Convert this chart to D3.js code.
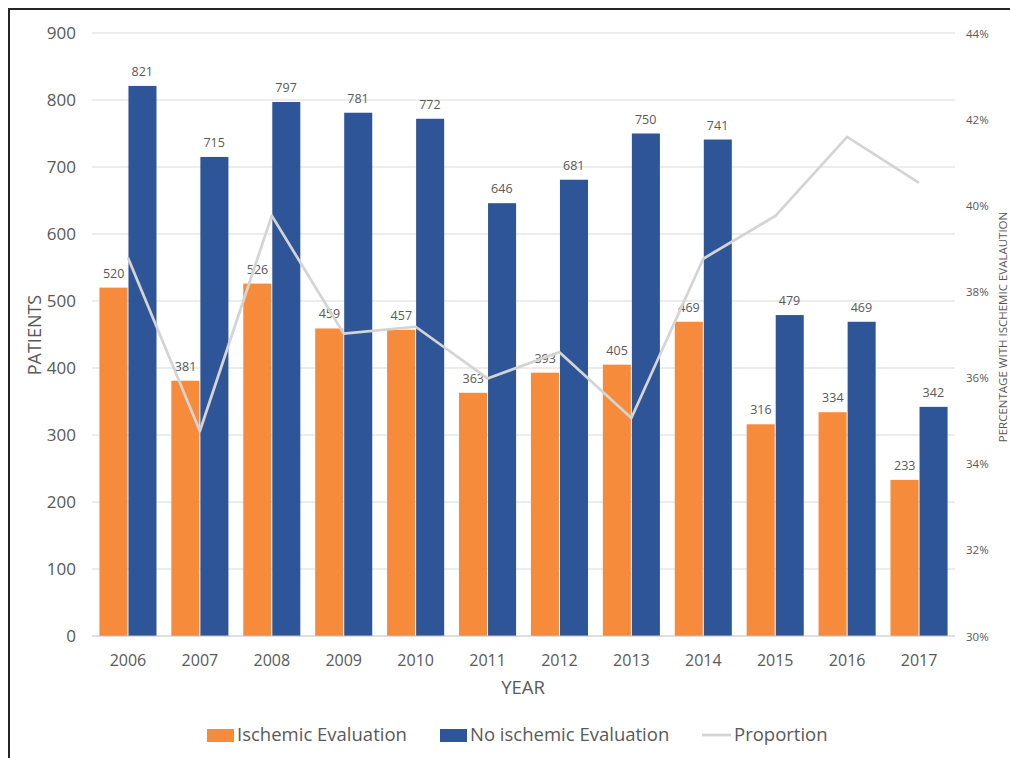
<!DOCTYPE html>
<html>
<head>
<meta charset="utf-8">
<script src="https://cdn.jsdelivr.net/npm/d3@7"></script>
<style>
  html, body { margin: 0; padding: 0; background: #fff; }
  svg { display: block; }
  text { font-family: "Open Sans", sans-serif; fill: #595959; }
</style>
</head>
<body>
<svg id="chart" width="1010" height="758"></svg>
<script>
// Patients per year, with and without ischemic evaluation
const years = ["2006","2007","2008","2009","2010","2011","2012","2013","2014","2015","2016","2017"];
const ischemic = [520, 381, 526, 459, 457, 363, 393, 405, 469, 316, 334, 233];
const noIschemic = [821, 715, 797, 781, 772, 646, 681, 750, 741, 479, 469, 342];
// Share of patients with ischemic evaluation
const proportion = [0.3878, 0.3476, 0.3976, 0.3702, 0.3718, 0.3598, 0.3659, 0.3506, 0.3876, 0.3975, 0.4159, 0.4052];
const leftTicks = [0, 100, 200, 300, 400, 500, 600, 700, 800, 900];
const rightTicks = [0.30, 0.32, 0.34, 0.36, 0.38, 0.40, 0.42, 0.44];

const ORANGE = "#F68C3B", BLUE = "#2E5597", LINE = "#D4D4D4";

const svg = d3.select("#chart");

// outer frame
svg.append("rect").attr("x", 9).attr("y", 9).attr("width", 1030).attr("height", 780)
  .attr("fill", "none").attr("stroke", "#262626").attr("stroke-width", 2);

const plot = { left: 92, right: 955, top: 33, bottom: 636 };

const x = d3.scaleBand().domain(years).range([plot.left, plot.right]).padding(0);
const inner = d3.scaleBand().domain(["isc", "no"]).range([0, x.bandwidth()])
  .paddingInner(0).paddingOuter(0.26);
const y = d3.scaleLinear().domain([0, 900]).range([plot.bottom, plot.top]);
const y2 = d3.scaleLinear().domain([0.30, 0.44]).range([plot.bottom, plot.top]);

// gridlines
svg.append("g").selectAll("line").data(leftTicks.slice(1)).join("line")
  .attr("x1", plot.left).attr("x2", plot.right)
  .attr("y1", d => y(d)).attr("y2", d => y(d))
  .attr("stroke", "#D9D9D9").attr("stroke-width", 1);

// left axis
const yAxis = d3.axisLeft(y).tickValues(leftTicks).tickSize(0).tickPadding(0);
const gy = svg.append("g").attr("transform", `translate(76,0)`).call(yAxis);
gy.select(".domain").remove();
gy.selectAll("text").style("font-size", "17px").attr("fill", "#595959").attr("dy", "0.35em");

// right axis
const y2Axis = d3.axisRight(y2).tickValues(rightTicks).tickSize(0).tickFormat(d3.format(".0%"));
const gy2 = svg.append("g").attr("transform", `translate(963,0)`).call(y2Axis);
gy2.select(".domain").remove();
gy2.selectAll("text").style("font-size", "11.5px").attr("fill", "#595959").attr("dy", "0.35em");

// bars
const groups = svg.append("g").selectAll("g").data(years).join("g")
  .attr("transform", d => `translate(${x(d)},0)`);

groups.append("rect")
  .attr("x", inner("isc")).attr("width", inner.bandwidth() - 0.5)
  .attr("y", (d, i) => y(ischemic[i])).attr("height", (d, i) => y(0) - y(ischemic[i]))
  .attr("fill", ORANGE);
groups.append("rect")
  .attr("x", inner("no") + 0.5).attr("width", inner.bandwidth() - 0.5)
  .attr("y", (d, i) => y(noIschemic[i])).attr("height", (d, i) => y(0) - y(noIschemic[i]))
  .attr("fill", BLUE);

// baseline
svg.append("line").attr("x1", plot.left).attr("x2", plot.right)
  .attr("y1", y(0)).attr("y2", y(0)).attr("stroke", "#BFBFBF").attr("stroke-width", 1);

// proportion line
const line = d3.line()
  .x((d, i) => x(years[i]) + x.bandwidth() / 2)
  .y(d => y2(d));
svg.append("path").datum(proportion).attr("d", line)
  .attr("fill", "none").attr("stroke", LINE).attr("stroke-width", 2.75)
  .attr("stroke-linejoin", "round");

// data labels
groups.append("text")
  .attr("x", inner("isc") + inner.bandwidth() / 2)
  .attr("y", (d, i) => y(ischemic[i]) - 10)
  .attr("text-anchor", "middle").style("font-size", "12.5px")
  .text((d, i) => ischemic[i]);
groups.append("text")
  .attr("x", inner("no") + inner.bandwidth() / 2)
  .attr("y", (d, i) => y(noIschemic[i]) - 10)
  .attr("text-anchor", "middle").style("font-size", "12.5px")
  .text((d, i) => noIschemic[i]);

// x axis labels
const xAxis = d3.axisBottom(x).tickSize(0).tickPadding(0);
const gx = svg.append("g").attr("transform", `translate(0,${plot.bottom + 24})`).call(xAxis);
gx.select(".domain").remove();
gx.selectAll("text").style("font-size", "16px").attr("fill", "#595959").attr("dy", "0.35em");

// axis titles
svg.append("text").attr("x", 523).attr("y", 688).attr("dy", "0.35em")
  .attr("text-anchor", "middle").style("font-size", "18.5px").text("YEAR");
svg.append("text").attr("transform", "translate(35,335) rotate(-90)")
  .attr("text-anchor", "middle").attr("dy", "0.35em").style("font-size", "18px").text("PATIENTS");
svg.append("text").attr("transform", "translate(1003,327) rotate(-90)")
  .attr("text-anchor", "middle").attr("dy", "0.35em").style("font-size", "11.5px").text("PERCENTAGE WITH ISCHEMIC EVALAUTION");

// legend
const leg = svg.append("g");
leg.append("rect").attr("x", 207).attr("y", 729).attr("width", 27).attr("height", 13).attr("fill", ORANGE);
leg.append("text").attr("x", 237).attr("y", 735).attr("dy", "0.35em").style("font-size", "18.5px").text("Ischemic Evaluation");
leg.append("rect").attr("x", 440).attr("y", 729).attr("width", 27).attr("height", 13).attr("fill", BLUE);
leg.append("text").attr("x", 470).attr("y", 735).attr("dy", "0.35em").style("font-size", "18.5px").text("No ischemic Evaluation");
leg.append("line").attr("x1", 702).attr("x2", 731).attr("y1", 735).attr("y2", 735)
  .attr("stroke", LINE).attr("stroke-width", 2.75);
leg.append("text").attr("x", 734).attr("y", 735).attr("dy", "0.35em").style("font-size", "18.5px").text("Proportion");
</script>
</body>
</html>
